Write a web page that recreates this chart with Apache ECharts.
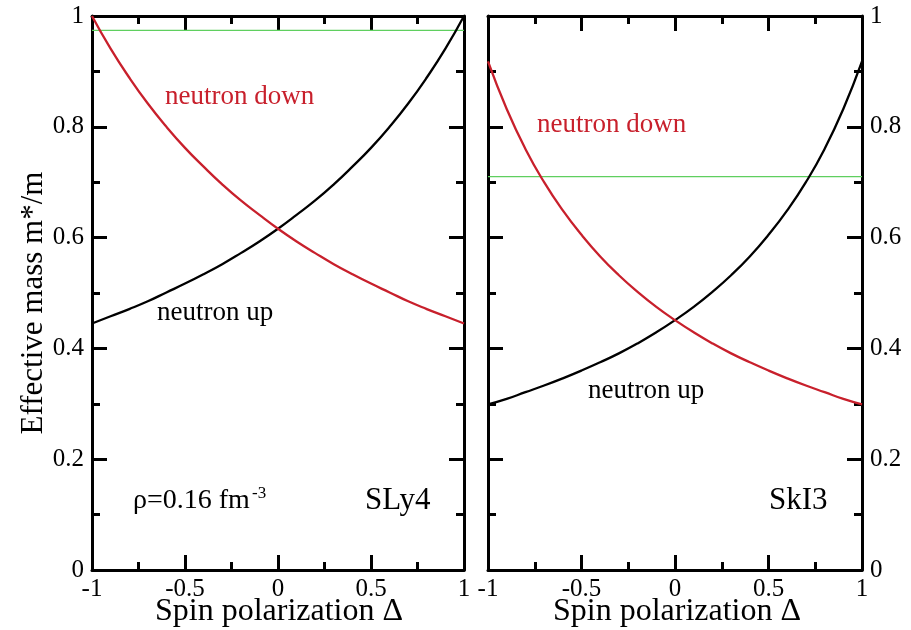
<!DOCTYPE html>
<html>
<head>
<meta charset="utf-8">
<script src="https://cdn.jsdelivr.net/npm/echarts@6/dist/echarts.min.js"></script>
<style>
  html, body { margin: 0; padding: 0; background: #fff; }
  #chart { width: 911px; height: 630px; }
</style>
</head>
<body>
<div id="chart"></div>
<script>
// Spin polarization grid shared by both panels
const delta = [-1, -0.9, -0.8, -0.7, -0.6, -0.5, -0.4, -0.3, -0.2, -0.1, 0,
               0.1, 0.2, 0.3, 0.4, 0.5, 0.6, 0.7, 0.8, 0.9, 1];

// SLy4 effective masses m*/m
const sly4Down = [1.000, 0.941, 0.889, 0.842, 0.800, 0.762, 0.728, 0.696, 0.667, 0.641, 0.616,
                  0.593, 0.572, 0.552, 0.534, 0.517, 0.501, 0.485, 0.471, 0.458, 0.445];
const sly4Up   = [0.445, 0.458, 0.471, 0.485, 0.501, 0.517, 0.534, 0.552, 0.572, 0.593, 0.616,
                  0.641, 0.667, 0.696, 0.728, 0.762, 0.800, 0.842, 0.889, 0.941, 1.000];
const sly4Ref  = [0.974, 0.974];

// SkI3 effective masses m*/m
const ski3Down = [0.918, 0.832, 0.760, 0.700, 0.649, 0.605, 0.566, 0.532, 0.502, 0.475, 0.451,
                  0.429, 0.409, 0.391, 0.375, 0.360, 0.346, 0.333, 0.321, 0.309, 0.299];
const ski3Up   = [0.299, 0.309, 0.321, 0.333, 0.346, 0.360, 0.375, 0.391, 0.409, 0.429, 0.451,
                  0.475, 0.502, 0.532, 0.566, 0.605, 0.649, 0.700, 0.760, 0.832, 0.918];
const ski3Ref  = [0.710, 0.710];
const refX = [-1, 1];

const xTicks = { min: -1, max: 1, interval: 0.5 };
const yTicks = { min: 0, max: 1, interval: 0.2 };

const FONT = '"Liberation Serif", "Times New Roman", serif';
const RED = '#c8202c';
const GREEN = '#5fcf5f';
const X_TITLE = 'Spin polarization \u0394';
const Y_TITLE = 'Effective mass m*/m';

function pairs(xs, ys) { return xs.map((x, i) => [x, ys[i]]); }

function axisBase(showLabel, margin) {
  return {
    type: 'value',
    axisLine: { show: true, onZero: false, lineStyle: { color: '#000', width: 3 } },
    axisTick: { show: true, inside: true, length: 15, lineStyle: { color: '#000', width: 3 } },
    minorTick: { show: true, splitNumber: 2, length: 8, lineStyle: { color: '#000', width: 3 } },
    splitLine: { show: false },
    minorSplitLine: { show: false },
    axisLabel: { show: showLabel, color: '#000', fontFamily: FONT, fontSize: 25, margin: margin }
  };
}

function xAxis(grid, pos, showLabel) {
  return Object.assign(axisBase(showLabel, 7), { gridIndex: grid, position: pos }, xTicks);
}

function yAxis(grid, pos, showLabel) {
  return Object.assign(axisBase(showLabel, 8), { gridIndex: grid, position: pos }, yTicks);
}

function curve(name, x, y, xi, yi, color, width) {
  return {
    name: name, type: 'line', xAxisIndex: xi, yAxisIndex: yi,
    data: pairs(x, y), showSymbol: false, smooth: true, silent: true,
    lineStyle: { color: color, width: width }, z: 3
  };
}

// text placed by its left edge (or centre) and baseline
function text(str, x, baseline, size, color, align) {
  return {
    type: 'text', x: x, y: baseline - size * 0.89,
    style: { text: str, font: size + 'px ' + FONT, fill: color,
             align: align || 'left', verticalAlign: 'top' }
  };
}

const chart = echarts.init(document.getElementById('chart'), null, { renderer: 'canvas' });
chart.setOption({
  backgroundColor: '#fff',
  animation: false,
  grid: [
    { left: 92, top: 16, width: 372, height: 554, containLabel: false, outerBoundsMode: 'none' },
    { left: 488, top: 16, width: 374, height: 554, containLabel: false, outerBoundsMode: 'none' }
  ],
  xAxis: [
    xAxis(0, 'bottom', true), xAxis(0, 'top', false),
    xAxis(1, 'bottom', true), xAxis(1, 'top', false)
  ],
  yAxis: [
    yAxis(0, 'left', true), yAxis(0, 'right', false),
    yAxis(1, 'left', false), yAxis(1, 'right', true)
  ],
  series: [
    curve('SLy4 reference', refX, sly4Ref, 0, 0, GREEN, 1.3),
    curve('SLy4 neutron up', delta, sly4Up, 0, 0, '#000', 2.3),
    curve('SLy4 neutron down', delta, sly4Down, 0, 0, RED, 2.3),
    curve('SkI3 reference', refX, ski3Ref, 2, 3, GREEN, 1.3),
    curve('SkI3 neutron up', delta, ski3Up, 2, 3, '#000', 2.3),
    curve('SkI3 neutron down', delta, ski3Down, 2, 3, RED, 2.3)
  ],
  graphic: [
    {
      type: 'text', x: 34, y: 303, rotation: Math.PI / 2,
      style: { text: Y_TITLE, font: '31px ' + FONT, fill: '#000',
               align: 'center', verticalAlign: 'middle' }
    },
    text(X_TITLE, 279, 624, 32, '#000', 'center'),
    text(X_TITLE, 677, 624, 32, '#000', 'center'),
    text('neutron down', 165, 107, 27, RED),
    text('neutron up', 157, 323, 27, '#000'),
    text('\u03c1=0.16 fm', 133, 512, 28, '#000'),
    text('-3', 252, 500, 17, '#000'),
    text('SLy4', 365, 513, 31, '#000'),
    text('neutron down', 537, 135, 27, RED),
    text('neutron up', 588, 401, 27, '#000'),
    text('SkI3', 769, 513, 31, '#000')
  ]
});
</script>
</body>
</html>
